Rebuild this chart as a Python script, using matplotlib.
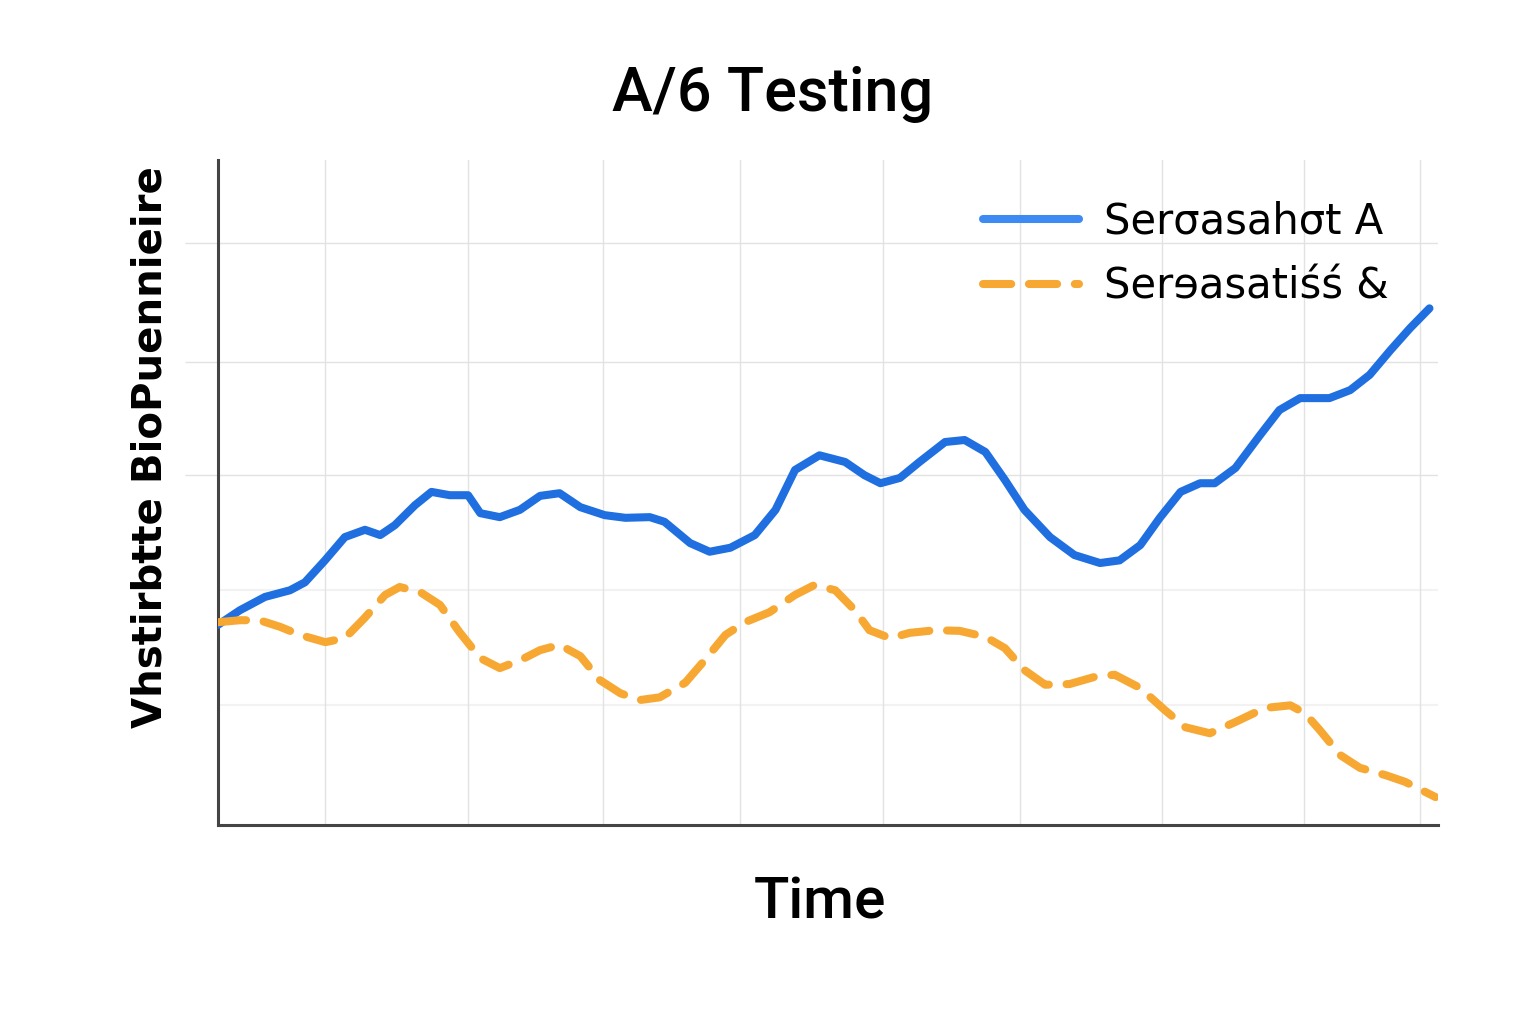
import matplotlib.pyplot as plt

# time positions / values
time_a = [0, 1.8, 3.85, 5.9, 7.13, 8.77, 10.4, 12.05, 13.3, 14.5, 16.15, 17.5, 19.0, 20.5,
          21.5, 23.1, 24.75, 26.4, 28.0, 29.7, 31.7, 33.4, 35.4, 36.6, 38.7, 40.3, 42.0,
          44.0, 45.7, 47.3, 49.3, 51.4, 53.0, 54.3, 55.9, 57.5, 59.6, 61.2, 62.9, 64.5,
          66.1, 68.2, 70.2, 72.3, 73.9, 75.6, 77.2, 78.9, 80.5, 81.7, 83.4, 85.4, 87.0,
          88.7, 91.1, 92.8, 94.4, 96.1, 97.7, 99.3]
series_a = [30.1, 32.3, 34.3, 35.3, 36.5, 39.8, 43.3, 44.4, 43.6, 45.1, 48.1, 50.1, 49.6,
            49.6, 46.9, 46.3, 47.4, 49.5, 49.9, 47.8, 46.6, 46.2, 46.3, 45.6, 42.4, 41.1,
            41.7, 43.6, 47.4, 53.4, 55.6, 54.6, 52.6, 51.4, 52.2, 54.6, 57.6, 57.9, 56.1,
            51.9, 47.4, 43.3, 40.6, 39.4, 39.8, 42.1, 46.2, 50.1, 51.4, 51.4, 53.7, 58.6,
            62.4, 64.2, 64.2, 65.4, 67.7, 71.4, 74.7, 77.7]

time_b = [0, 1.8, 3.4, 5.1, 6.7, 8.8, 10.4, 12.0, 13.7, 14.9, 16.6, 18.2, 19.8, 21.5,
          23.1, 24.8, 26.4, 28.0, 29.7, 31.3, 33.0, 34.6, 36.2, 38.3, 39.9, 41.6, 43.2,
          45.2, 47.3, 48.9, 50.6, 52.2, 53.4, 55.1, 56.7, 58.8, 60.8, 62.9, 64.5, 66.1,
          67.8, 69.8, 71.9, 73.5, 75.6, 77.6, 79.3, 81.3, 83.4, 85.8, 87.9, 89.1, 90.3,
          92.0, 93.6, 95.7, 97.3, 99.8]
series_b = [30.5, 30.8, 30.8, 29.8, 28.6, 27.5, 28.1, 31.1, 34.6, 35.8, 35.0, 33.1, 29.0,
            25.1, 23.6, 24.8, 26.3, 27.1, 25.4, 21.8, 19.8, 18.8, 19.2, 21.4, 24.8, 28.6,
            30.5, 32.0, 34.6, 36.1, 35.3, 32.3, 29.3, 28.1, 28.9, 29.3, 29.2, 28.3, 26.6,
            23.3, 21.1, 21.2, 22.3, 22.6, 20.6, 17.3, 14.7, 13.8, 15.5, 17.6, 18.0, 16.8,
            14.3, 10.5, 8.6, 7.5, 6.5, 4.2]

grid_x = [8.8, 20.5, 31.6, 42.8, 54.5, 65.7, 77.4, 89.0, 98.5]
grid_y = [52.6, 69.6, 87.5]
faint_y = [18.0, 35.3]

label_a = "Serσasahσt A"
label_b = "Serɘasatiśś &"

fig = plt.figure(figsize=(15.36, 10.24), dpi=100)
ax = fig.add_axes([0.1419, 0.1943, 0.7943, 0.6494])

ax.set_xlim(0, 100)
ax.set_ylim(0, 100)
ax.set_xticks(grid_x)
ax.set_yticks(grid_y)
ax.set_xticklabels([])
ax.set_yticklabels([])
ax.tick_params(axis="x", length=0)
ax.tick_params(axis="y", length=24, width=1, color="#e2e2e2")
ax.grid(True, color="#e2e2e2", linewidth=1)
for fy in faint_y:
    ax.axhline(fy, color="#f2f2f2", linewidth=1.5, zorder=0)

for s in ["top", "right"]:
    ax.spines[s].set_visible(False)
for s in ["left", "bottom"]:
    ax.spines[s].set_color("#444444")
    ax.spines[s].set_linewidth(2.2)

ax.plot(time_a, series_a, color="#1f6fe0", linewidth=5.8, solid_capstyle="round",
        solid_joinstyle="round", label=label_a, zorder=3)
ax.plot(time_b, series_b, color="#f7a833", linewidth=5.8, linestyle=(0, (3.5, 2.2)),
        dash_capstyle="round", label=label_b, zorder=3)

leg = ax.legend(loc="upper right", bbox_to_anchor=(0.99, 0.995), frameon=False,
                fontsize=30, handlelength=2.3, handletextpad=0.6, labelspacing=0.55)
leg.get_lines()[0].set_color("#3d8bf2")

fig.text(0.503, 0.908, "A/6 Testing", ha="center", va="center", fontsize=44,
         family="Roboto", fontweight="medium")
fig.text(0.534, 0.118, "Time", ha="center", va="center", fontsize=42,
         family="Roboto", fontweight="medium")
fig.text(0.098, 0.563, "Vhstirbtte BioPuennieire", ha="center", va="center",
         rotation=90, fontsize=29, fontweight="bold")

fig.savefig("out.png", dpi=100, facecolor="white")
